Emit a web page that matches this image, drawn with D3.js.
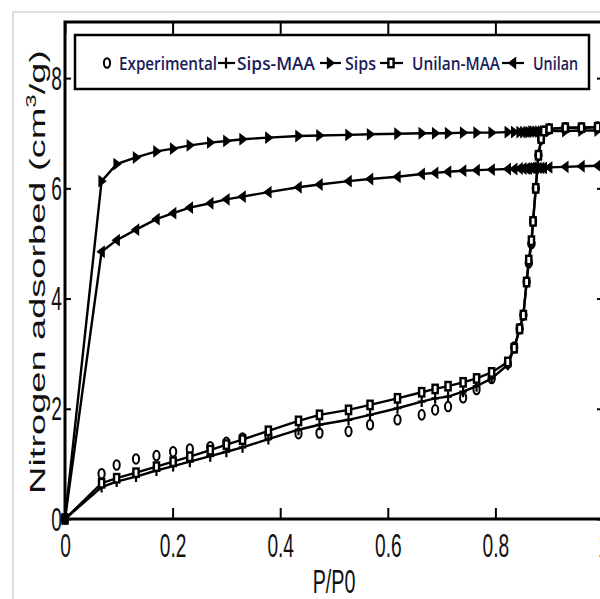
<!DOCTYPE html>
<html><head><meta charset="utf-8">
<script src="https://cdn.jsdelivr.net/npm/d3@7"></script>
<style>html,body{margin:0;padding:0;background:#fff;overflow:hidden}</style>
</head><body>
<svg id="c" width="600" height="599"></svg>
<script>
// ---- data ----
const pp0 = [0, 0.068, 0.096, 0.132, 0.170, 0.201, 0.232, 0.27, 0.30, 0.33, 0.378, 0.434, 0.473, 0.527, 0.567, 0.618, 0.663, 0.688, 0.712, 0.740, 0.765, 0.793, 0.823, 0.835, 0.845, 0.852, 0.858, 0.862, 0.867, 0.870, 0.875, 0.880, 0.885, 0.890, 0.90, 0.93, 0.96, 0.99];
const experimental = [0, 0.82, 0.98, 1.09, 1.15, 1.22, 1.27, 1.31, 1.39, 1.47, 1.52, 1.55, 1.56, 1.59, 1.71, 1.80, 1.89, 1.98, 2.04, 2.20, 2.35, 2.55, 2.82, 3.12, 3.45, 3.70, 4.30, 4.65, 5.00, 5.40, 6.00, 6.60, 6.90, 7.04, 7.08, 7.10, 7.10, 7.11];
const sipsMAA = [0, 0.58, 0.68, 0.77, 0.88, 0.96, 1.04, 1.14, 1.22, 1.30, 1.45, 1.62, 1.71, 1.80, 1.89, 2.01, 2.13, 2.19, 2.22, 2.31, 2.41, 2.55, 2.80, 3.10, 3.45, 3.70, 4.30, 4.65, 5.00, 5.40, 6.00, 6.60, 6.88, 7.03, 7.08, 7.10, 7.10, 7.11];
const sips = [0, 6.13, 6.44, 6.56, 6.67, 6.72, 6.78, 6.83, 6.86, 6.89, 6.92, 6.95, 6.96, 6.97, 6.98, 6.99, 7.0, 7.0, 7.0, 7.01, 7.01, 7.01, 7.02, 7.02, 7.02, 7.02, 7.02, 7.02, 7.03, 7.03, 7.03, 7.03, 7.03, 7.03, 7.04, 7.04, 7.05, 7.05];
const unilanMAA = [0, 0.65, 0.74, 0.84, 0.95, 1.04, 1.13, 1.25, 1.35, 1.44, 1.60, 1.78, 1.89, 1.98, 2.07, 2.19, 2.30, 2.36, 2.41, 2.48, 2.55, 2.66, 2.85, 3.10, 3.45, 3.70, 4.30, 4.70, 5.05, 5.40, 6.00, 6.60, 6.90, 7.04, 7.08, 7.10, 7.10, 7.11];
const unilan = [0, 4.85, 5.06, 5.25, 5.44, 5.55, 5.65, 5.73, 5.80, 5.85, 5.93, 6.02, 6.07, 6.13, 6.17, 6.21, 6.26, 6.28, 6.30, 6.32, 6.33, 6.34, 6.35, 6.35, 6.36, 6.36, 6.36, 6.36, 6.37, 6.37, 6.37, 6.37, 6.37, 6.37, 6.38, 6.39, 6.40, 6.41];
const seriesNames = ["Experimental", "Sips-MAA", "Sips", "Unilan-MAA", "Unilan"];
const xTicks = [0, 0.2, 0.4, 0.6, 0.8, 1];
const yTicks = [0, 2, 4, 6, 8];
const xLabel = "P/P0";

// ---- layout ----
const SQ = 0.58; // horizontal squash of the original picture
const svg = d3.select("#c");
const L = 65, R = 603, T = 22, B = 519;
const x = d3.scaleLinear().domain([0, 1]).range([L, R]);
const y = d3.scaleLinear().domain([0, 9]).range([B, T + 1]);

// outer light frame
svg.append("path").attr("d", "M13,600 V12 H600").attr("fill", "none").attr("stroke", "#c4c4c4").attr("stroke-width", 1.2);

// marker shapes
const markers = {
  circle: g => g.append("ellipse").attr("rx", 3.1).attr("ry", 4.8).attr("fill", "none").attr("stroke", "#000").attr("stroke-width", 2),
  plus: g => g.append("path").attr("d", "M-3.8,0H3.8M0,-5.5V5.5").attr("stroke", "#000").attr("stroke-width", 2.2),
  right: g => g.append("path").attr("d", "M-2.6,-5.2L4.2,0L-2.6,5.2Z").attr("fill", "#000").attr("stroke", "#000").attr("stroke-width", 1.2),
  left: g => g.append("path").attr("d", "M2.6,-5.2L-4.2,0L2.6,5.2Z").attr("fill", "#000").attr("stroke", "#000").attr("stroke-width", 1.2),
  square: g => g.append("rect").attr("x", -2.6).attr("y", -4.2).attr("width", 5.2).attr("height", 8.4).attr("fill", "#fff").attr("stroke", "#000").attr("stroke-width", 2.4)
};

const series = [
  {name: seriesNames[0], vals: experimental, line: false, m: "circle"},
  {name: seriesNames[1], vals: sipsMAA, line: true, m: "plus"},
  {name: seriesNames[2], vals: sips, line: true, m: "right"},
  {name: seriesNames[3], vals: unilanMAA, line: true, m: "square"},
  {name: seriesNames[4], vals: unilan, line: true, m: "left"}
];

const plot = svg.append("g");
const lineGen = d3.line().x((d, i) => x(pp0[i])).y(d => y(d));
series.forEach(s => {
  if (s.line) plot.append("path").datum(s.vals).attr("d", lineGen)
    .attr("fill", "none").attr("stroke", "#000").attr("stroke-width", 2.4);
});
series.forEach(s => {
  s.vals.forEach((v, i) => {
    const g = plot.append("g").attr("transform", `translate(${x(pp0[i])},${y(v)})`);
    markers[s.m](g);
  });
});

// axes
const font = "'Liberation Sans', Arial, sans-serif";
const fmt = d3.format("");
const axB = svg.append("g").attr("transform", `translate(0,${B})`)
  .call(d3.axisBottom(x).tickValues(xTicks).tickFormat(fmt).tickSizeInner(-11).tickSizeOuter(0).tickPadding(15));
const axT = svg.append("g").attr("transform", `translate(0,${T})`)
  .call(d3.axisTop(x).tickValues(xTicks).tickFormat("").tickSizeInner(-12).tickSizeOuter(0));
const axLf = svg.append("g").attr("transform", `translate(${L},0)`)
  .call(d3.axisLeft(y).tickValues(yTicks).tickFormat(fmt).tickSizeInner(-6).tickSizeOuter(0).tickPadding(3));
const axRt = svg.append("g").attr("transform", `translate(${R},0)`)
  .call(d3.axisRight(y).tickValues(yTicks).tickFormat("").tickSizeInner(-6).tickSizeOuter(0));
[axB, axT, axLf, axRt].forEach(a => {
  a.select(".domain").remove();
  a.selectAll(".tick line").attr("stroke", "#000").attr("stroke-width", 2);
});
axB.selectAll("text").attr("font-family", font).attr("font-size", 33).attr("fill", "#111")
  .attr("transform", `scale(${SQ},1)`);
axLf.selectAll("text").attr("font-family", font).attr("font-size", 33).attr("fill", "#111")
  .attr("x", -3 / SQ).attr("dy", "0.34em").attr("transform", `scale(${SQ},1)`);

// plot frame
svg.append("rect").attr("x", L).attr("y", T).attr("width", R - L).attr("height", B - T)
  .attr("fill", "none").attr("stroke", "#000").attr("stroke-width", 3);

// axis titles
svg.append("text").attr("transform", `translate(334,593) scale(${SQ},1)`)
  .attr("text-anchor", "middle").attr("font-family", font).attr("font-size", 34).attr("fill", "#111").text(xLabel);
const yl = svg.append("text").attr("transform", `translate(45,272) scale(${SQ},1) rotate(-90)`)
  .attr("text-anchor", "middle").attr("font-family", font).attr("font-size", 38).attr("fill", "#111");
yl.append("tspan").text("Nitrogen adsorbed (cm");
yl.append("tspan").attr("font-size", 24).attr("dy", -15).text("3");
yl.append("tspan").attr("dy", 15).text("/g)");

// legend
const lg = svg.append("g");
lg.append("rect").attr("x", 75).attr("y", 35).attr("width", 514).attr("height", 54)
  .attr("fill", "#fff").attr("stroke", "#000").attr("stroke-width", 2.5);
const legendItems = [
  {s: series[0], l0: null, l1: null, mx: 107, tx: 119, tw: 98},
  {s: series[1], l0: 218, l1: 235, mx: 226, tx: 237, tw: 78},
  {s: series[2], l0: 320, l1: 341, mx: 330, tx: 345, tw: 31},
  {s: series[3], l0: 380, l1: 403, mx: 391, tx: 412, tw: 88},
  {s: series[4], l0: 502, l1: 524, mx: 513, tx: 533, tw: 45}
];
const ly = 63;
legendItems.forEach(it => {
  if (it.l0 !== null) lg.append("line").attr("x1", it.l0).attr("x2", it.l1).attr("y1", ly).attr("y2", ly)
    .attr("stroke", "#000").attr("stroke-width", 2.2);
  markers[it.s.m](lg.append("g").attr("transform", `translate(${it.mx},${ly})`));
  lg.append("text").attr("x", it.tx).attr("y", ly + 6.5).attr("font-family", "'Open Sans', 'Liberation Sans', sans-serif")
    .attr("font-weight", 600).attr("font-size", 18).attr("fill", "#1c1c58")
    .attr("textLength", it.tw).attr("lengthAdjust", "spacingAndGlyphs").text(it.s.name);
});
</script>
</body></html>
